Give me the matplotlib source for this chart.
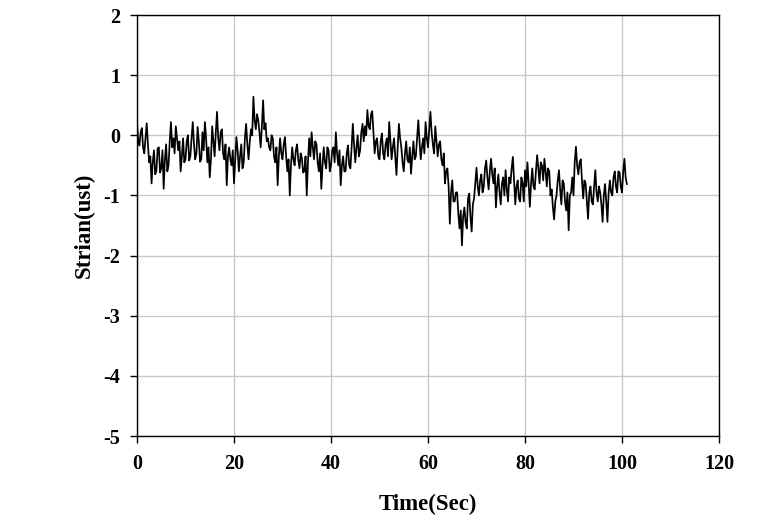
import numpy as np
import matplotlib
matplotlib.use("Agg")
import matplotlib.pyplot as plt

# sampling interval (s) and strain values (one row = 2 s)
time_step = 0.25
strain = [
    0.22, -0.10, -0.17, 0.05, 0.12, -0.20, -0.30, -0.05,
    0.20, -0.15, -0.45, -0.35, -0.80, -0.45, -0.25, -0.65,
    -0.60, -0.22, -0.20, -0.62, -0.55, -0.25, -0.89, -0.40,
    -0.15, -0.60, -0.50, -0.10, 0.22, -0.20, -0.05, -0.30,
    0.15, -0.05, -0.25, -0.10, -0.60, -0.35, -0.05, -0.45,
    -0.40, -0.10, 0.00, -0.42, -0.35, -0.05, 0.22, -0.15,
    -0.40, -0.30, 0.14, -0.10, -0.44, -0.40, 0.05, -0.25,
    0.22, -0.05, -0.45, -0.20, -0.70, -0.40, 0.15, -0.10,
    -0.35, 0.05, 0.39, -0.05, -0.25, 0.05, 0.10, -0.30,
    -0.40, -0.15, -0.83, -0.35, -0.20, -0.40, -0.50, -0.25,
    -0.80, -0.40, -0.03, -0.25, -0.60, -0.35, -0.15, -0.55,
    -0.45, -0.05, 0.19, -0.15, -0.40, -0.10, 0.10, 0.00,
    0.64, 0.25, 0.10, 0.35, 0.25, 0.05, -0.20, 0.15,
    0.58, 0.10, 0.20, -0.10, -0.05, -0.20, -0.25, 0.00,
    -0.05, -0.35, -0.45, -0.20, -0.83, -0.35, -0.05, -0.30,
    -0.40, -0.15, -0.03, -0.35, -0.60, -0.40, -1.00, -0.50,
    -0.20, -0.40, -0.50, -0.25, -0.15, -0.40, -0.55, -0.30,
    -0.38, -0.62, -0.60, -0.35, -1.00, -0.45, -0.05, -0.35,
    0.05, -0.20, -0.40, -0.10, -0.15, -0.45, -0.60, -0.30,
    -0.89, -0.50, -0.20, -0.45, -0.55, -0.20, -0.25, -0.60,
    -0.50, -0.25, -0.20, -0.45, 0.05, -0.30, -0.50, -0.25,
    -0.83, -0.50, -0.35, -0.60, -0.60, -0.30, -0.17, -0.50,
    -0.55, -0.20, 0.19, -0.15, -0.45, -0.20, 0.00, -0.35,
    -0.25, 0.05, 0.19, -0.10, 0.15, 0.00, 0.42, 0.15,
    0.10, 0.35, 0.40, 0.05, -0.30, -0.10, -0.05, -0.35,
    -0.40, -0.10, 0.03, -0.30, -0.40, -0.15, -0.05, -0.35,
    0.22, -0.10, -0.40, -0.20, -0.05, -0.35, -0.66, -0.20,
    0.19, -0.05, -0.20, -0.45, -0.60, -0.30, -0.10, -0.40,
    -0.45, -0.20, -0.64, -0.35, -0.10, -0.40, -0.35, -0.05,
    0.25, -0.10, -0.40, -0.20, -0.05, -0.30, 0.22, -0.05,
    -0.20, 0.10, 0.39, 0.05, -0.15, -0.30, 0.15, -0.10,
    -0.35, -0.15, -0.10, -0.40, -0.50, -0.30, -0.80, -0.60,
    -0.55, -0.85, -1.47, -0.95, -0.75, -1.10, -1.10, -0.95,
    -0.95, -1.30, -1.55, -1.25, -1.83, -1.35, -1.20, -1.45,
    -1.55, -1.05, -0.97, -1.35, -1.60, -1.15, -1.05, -0.80,
    -0.54, -0.85, -1.00, -0.75, -0.65, -0.95, -0.85, -0.55,
    -0.42, -0.70, -0.90, -0.60, -0.39, -0.65, -0.80, -0.55,
    -1.20, -0.85, -0.65, -0.95, -1.15, -0.80, -0.70, -1.00,
    -0.58, -0.90, -1.10, -0.70, -0.80, -0.55, -0.36, -0.75,
    -1.15, -0.85, -0.75, -1.05, -1.10, -0.70, -0.80, -1.10,
    -0.58, -0.85, -0.45, -0.80, -1.19, -0.80, -0.55, -0.85,
    -0.90, -0.60, -0.33, -0.55, -0.80, -0.45, -0.50, -0.75,
    -0.39, -0.60, -0.85, -0.55, -0.60, -1.00, -0.90, -1.20,
    -1.40, -1.10, -1.00, -0.75, -0.58, -0.90, -1.15, -0.75,
    -0.80, -1.10, -1.25, -0.95, -1.58, -1.00, -0.95, -0.70,
    -1.00, -0.45, -0.19, -0.50, -0.65, -0.45, -0.40, -0.75,
    -1.05, -0.75, -0.80, -1.10, -1.39, -0.95, -0.85, -1.10,
    -1.15, -0.85, -0.58, -0.95, -1.10, -0.85, -0.95, -1.15,
    -1.44, -1.00, -0.81, -1.10, -1.44, -0.95, -0.75, -0.95,
    -1.00, -0.70, -0.60, -0.85, -0.95, -0.60, -0.62, -0.85,
    -0.95, -0.60, -0.39, -0.70, -0.81,
]
time = np.arange(len(strain)) * time_step

x_ticks = [0, 20, 40, 60, 80, 100, 120]
y_ticks = [-5, -4, -3, -2, -1, 0, 1, 2]

plt.rcParams['font.family'] = ['Liberation Serif', 'DejaVu Serif']

fig = plt.figure(figsize=(7.76, 5.23), dpi=100)
ax = fig.add_axes([137/776, 1 - 436/523, (719-137)/776, (436-15)/523])

ax.plot(time, strain, color='black', lw=1.25)

ax.set_xlim(0, 120)
ax.set_ylim(-5, 2)
ax.set_xticks(x_ticks)
ax.set_yticks(y_ticks)
ax.set_xticklabels([str(v) for v in x_ticks], fontsize=14.5, fontweight='bold')
ax.set_yticklabels([str(v) for v in y_ticks], fontsize=14.5, fontweight='bold')
ax.tick_params(axis='both', direction='out', length=5, width=1, color='black')
ax.tick_params(axis='x', pad=8)
ax.tick_params(axis='y', pad=7)

ax.grid(True, color='#c8c8c8', lw=1)
ax.set_axisbelow(True)
for s in ax.spines.values():
    s.set_color('black')
    s.set_linewidth(1)

ax.set_xlabel('Time(Sec)', fontsize=16.5, fontweight='bold', labelpad=14)
ax.set_ylabel('Strian(ust)', fontsize=16.5, fontweight='bold', labelpad=6)

fig.savefig('out.png', dpi=100)
